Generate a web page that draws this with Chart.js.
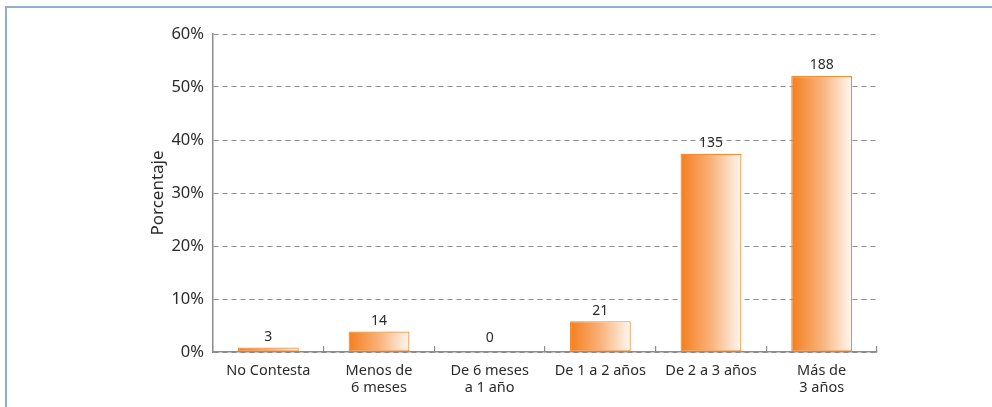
<!DOCTYPE html>
<html>
<head>
<meta charset="utf-8">
<script src="https://cdn.jsdelivr.net/npm/chart.js@4.4.1/dist/chart.umd.min.js"></script>
<style>
  html, body { margin: 0; padding: 0; background: #fff; }
  #wrap { position: relative; width: 992px; height: 407px; overflow: hidden; }
  #frame { position: absolute; left: 5px; top: 6px; right: -4px; bottom: -4px;
           border-top: 2px solid #8fafcb; border-left: 2px solid #8fafcb; }
  #c { position: absolute; left: 0; top: 0; }
</style>
</head>
<body>
<div id="wrap">
  <div id="frame"></div>
  <canvas id="c" width="992" height="407"></canvas>
</div>
<script>
// antigüedad de las respuestas (número de casos por tramo)
var labels = [['No Contesta'], ['Menos de', '6 meses'], ['De 6 meses', 'a 1 año'],
              ['De 1 a 2 años'], ['De 2 a 3 años'], ['Más de', '3 años']];
var counts = [3, 14, 0, 21, 135, 188];
var yTicks = [0, 10, 20, 30, 40, 50, 60];

var total = counts.reduce(function (a, b) { return a + b; }, 0);
var percents = counts.map(function (n) { return n / total * 100; });

var BAR_PCT = 0.55;
var FONT = '"Noto Sans", "Open Sans", sans-serif';

function barFill(c) {
  var chart = c.chart;
  var xs = chart.scales.x;
  if (!chart.chartArea || !xs || c.dataIndex === undefined) return '#f5821f';
  var cx = xs.getPixelForValue(c.dataIndex);
  var half = xs.width / labels.length * BAR_PCT / 2;
  var g = chart.ctx.createLinearGradient(cx - half, 0, cx + half, 0);
  g.addColorStop(0, '#f47f1c');
  g.addColorStop(0.5, '#f8b27a');
  g.addColorStop(1, '#fff8f2');
  return g;
}

// número de casos encima de cada barra
var countLabels = {
  id: 'countLabels',
  afterDatasetsDraw: function (chart) {
    var ctx = chart.ctx;
    var meta = chart.getDatasetMeta(0);
    ctx.save();
    ctx.font = '14px ' + FONT;
    ctx.fillStyle = '#2b2b2b';
    ctx.textAlign = 'center';
    ctx.textBaseline = 'alphabetic';
    meta.data.forEach(function (bar, i) {
      var gap = counts[i] === 0 ? 10 : 6.5;
      ctx.fillText(String(counts[i]), bar.x, bar.y - gap);
    });
    ctx.restore();
  }
};

new Chart(document.getElementById('c'), {
  type: 'bar',
  data: {
    labels: labels,
    datasets: [{
      data: percents,
      backgroundColor: barFill,
      borderColor: '#f58b34',
      borderWidth: 1.2,
      borderSkipped: false,
      barPercentage: 1,
      categoryPercentage: BAR_PCT
    }]
  },
  options: {
    responsive: false,
    animation: false,
    events: [],
    layout: { padding: { left: 140, right: 115, top: 34, bottom: 0 } },
    plugins: { legend: { display: false }, tooltip: { enabled: false } },
    scales: {
      x: {
        afterFit: function (s) { s.height = 55; },
        grid: { display: true, offset: true, drawOnChartArea: false, drawTicks: true,
                tickLength: -6, color: '#8c8c8c', lineWidth: 1.2 },
        border: { color: '#8c8c8c', width: 1.5 },
        ticks: { padding: 17, color: '#2b2b2b', maxRotation: 0, autoSkip: false,
                 font: { family: FONT, size: 14.5, lineHeight: 1.15 } }
      },
      y: {
        min: 0,
        max: 60,
        afterFit: function (s) { s.width = 73; },
        afterBuildTicks: function (s) { s.ticks = yTicks.map(function (v) { return { value: v }; }); },
        grid: { color: '#8c8c8c', lineWidth: 1, drawTicks: false },
        border: { color: '#8c8c8c', width: 1.5, dash: [5, 4] },
        ticks: { padding: 9, color: '#2b2b2b',
                 font: { family: FONT, size: 16.5 },
                 callback: function (v) { return v + '%'; } },
        title: { display: true, text: 'Porcentaje', color: '#2b2b2b', padding: { top: 8, bottom: 0 },
                 font: { family: FONT, size: 17 } }
      }
    }
  },
  plugins: [countLabels]
});
</script>
</body>
</html>
